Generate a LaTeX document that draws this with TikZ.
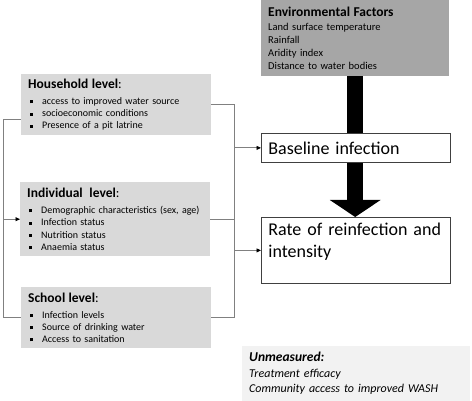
\documentclass[tikz,border=0pt]{standalone}
\usepackage{fontspec}
\setmainfont{Carlito}
\usepackage{tikz}
\usetikzlibrary{arrows.meta,positioning,backgrounds}
\definecolor{rflvl}{RGB}{217,217,217}
\definecolor{rfenv}{RGB}{166,166,166}
\definecolor{rfnote}{RGB}{242,242,242}
\definecolor{rfline}{RGB}{128,128,128}
\definecolor{rfedge}{RGB}{64,64,64}
\newcommand{\sqitem}[1]{\hspace*{2pt}\rule[1.2pt]{3pt}{3pt}\hspace{9pt}#1}
\newcommand{\lvltitle}[1]{{\fontsize{13.5}{16}\selectfont\textbf{#1}:}}
\tikzset{
  rfbox/.style={anchor=north west, align=left, inner xsep=7pt, inner ysep=0pt},
  lvl/.style={rfbox, fill=rflvl, minimum width=190pt, text width=176pt,
    font=\fontsize{10}{12.2}\selectfont},
  envbox/.style={rfbox, fill=rfenv, minimum width=188pt, text width=174pt,
    minimum height=76pt, font=\fontsize{10.5}{13}\selectfont},
  outbox/.style={rfbox, draw=rfedge, line width=0.8pt, fill=white,
    minimum width=189pt, text width=175pt, font=\fontsize{18}{22}\selectfont},
  note/.style={rfbox, fill=rfnote, minimum width=228pt, text width=214pt,
    minimum height=55pt, font=\fontsize{12}{15.5}\selectfont\itshape},
  link/.style={draw=rfline, line width=0.8pt},
  linkarr/.style={link, -{Triangle[length=4.5pt,width=4pt,black]}},
  fatarr/.style={line width=16pt, -{Triangle[length=17pt,width=50pt]}}
}
\begin{document}
\begin{tikzpicture}[x=1pt,y=-1pt]
  \useasboundingbox (0,0) rectangle (472,401);
  \node[envbox] (env) at (261,0)
    {{\fontsize{13.5}{16}\selectfont\textbf{Environmental Factors}}\\[1pt]
     Land surface temperature\\
     Rainfall\\
     Aridity index\\
     Distance to water bodies};
  \node[lvl, minimum height=61pt] (hh) at (21,74)
    {\lvltitle{Household level}\\[4pt]
     \sqitem{access to improved water source}\\
     \sqitem{socioeconomic conditions}\\
     \sqitem{Presence of a pit latrine}};
  \node[lvl, minimum height=74pt] (ind) at (20,182)
    {\lvltitle{Individual\ \ level}\\[4pt]
     \sqitem{Demographic characteristics (sex, age)}\\
     \sqitem{Infection status}\\
     \sqitem{Nutrition status}\\
     \sqitem{Anaemia status}};
  \node[lvl, minimum height=61pt] (sch) at (21,287)
    {\lvltitle{School level}\\[4pt]
     \sqitem{Infection levels}\\
     \sqitem{Source of drinking water}\\
     \sqitem{Access to sanitation}};
  \node[outbox, minimum height=29pt] (base) at (261,133) {Baseline infection};
  \node[outbox, minimum height=66pt] (rate) at (261,217)
    {Rate of reinfection and\\intensity\rule[-20pt]{0pt}{0pt}};
  \node[note] (unm) at (242,346)
    {{\fontsize{13.5}{16}\selectfont\textbf{Unmeasured:}}\\
     Treatment efficacy\\
     Community access to improved WASH};
  \coordinate (busx) at (234,0);
  \coordinate (loopx) at (3,0);
  \begin{scope}[on background layer]
    \draw[fatarr] (env.south) -- (env.south |- rate.north);
    \draw[link] (hh.east) -| (busx |- rate.west);
    \draw[link] (ind.east) -- (busx |- ind.east);
    \draw[link] ([yshift=16pt]hh.south west) -| (loopx |- sch.center)
      -- (busx |- sch.center) -- (busx |- rate.west);
  \end{scope}
  \draw[linkarr] (busx |- base.west) -- (base.west);
  \draw[linkarr] (busx |- rate.west) -- (rate.west);
  \draw[linkarr] (loopx |- ind.west) -- (ind.west);
\end{tikzpicture}
\end{document}
